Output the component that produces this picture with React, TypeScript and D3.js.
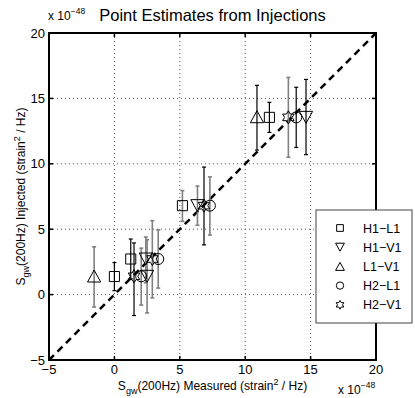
import * as d3 from "d3";

// axis settings
const DOMAIN: [number, number] = [-5, 20];
const TICKS = [-5, 0, 5, 10, 15, 20];
const GRID = [0, 5, 10, 15];
const TITLE = "Point Estimates from Injections";

// point estimates (x = measured, y = injected), error bar ends, dark bar flag
const h1l1X = [0, 1.25, 5.2, 11.85];
const h1l1Y = [1.38, 2.72, 6.8, 13.55];
const h1l1Lo = [0.3, 1.2, 5.6, 12.4];
const h1l1Hi = [2.45, 4.25, 7.95, 14.7];
const h1l1Dark = [true, true, false, true];

const h1v1X = [2.5, 2.4, 6.35, 14.65];
const h1v1Y = [1.4, 2.72, 6.8, 13.55];
const h1v1Lo = [-1.4, 0.9, 5.3, 10.7];
const h1v1Hi = [4.2, 4.4, 8.3, 16.45];
const h1v1Dark = [false, false, false, true];

const l1v1X = [-1.55, 10.9];
const l1v1Y = [1.42, 13.6];
const l1v1Lo = [-0.95, 11.05];
const l1v1Hi = [3.65, 16.0];
const l1v1Dark = [false, true];

const h2l1X = [2.05, 3.35, 7.3, 13.9];
const h2l1Y = [1.4, 2.72, 6.8, 13.55];
const h2l1Lo = [-0.8, 0.5, 4.55, 11.25];
const h2l1Hi = [3.55, 4.95, 9.0, 15.85];
const h2l1Dark = [false, false, false, true];

const h2v1X = [1.5, 2.9, 6.85, 13.3];
const h2v1Y = [1.4, 2.72, 6.8, 13.55];
const h2v1Lo = [-1.6, -0.25, 3.8, 10.5];
const h2v1Hi = [3.95, 5.65, 9.75, 16.6];
const h2v1Dark = [true, false, true, false];

type Shape = "square" | "down" | "up" | "circle" | "hex";

const SERIES: { name: string; shape: Shape; x: number[]; y: number[]; lo: number[]; hi: number[]; dark: boolean[] }[] = [
  { name: "H1\u2212L1", shape: "square", x: h1l1X, y: h1l1Y, lo: h1l1Lo, hi: h1l1Hi, dark: h1l1Dark },
  { name: "H1\u2212V1", shape: "down", x: h1v1X, y: h1v1Y, lo: h1v1Lo, hi: h1v1Hi, dark: h1v1Dark },
  { name: "L1\u2212V1", shape: "up", x: l1v1X, y: l1v1Y, lo: l1v1Lo, hi: l1v1Hi, dark: l1v1Dark },
  { name: "H2\u2212L1", shape: "circle", x: h2l1X, y: h2l1Y, lo: h2l1Lo, hi: h2l1Hi, dark: h2l1Dark },
  { name: "H2\u2212V1", shape: "hex", x: h2v1X, y: h2v1Y, lo: h2v1Lo, hi: h2v1Hi, dark: h2v1Dark },
];

const FONT = "'Liberation Sans', Arial, Helvetica, sans-serif";

function markerPath(shape: Shape, s: number): string {
  // s ~ marker size in px
  if (shape === "square") {
    const h = s * 0.42;
    return `M${-h},${-h}H${h}V${h}H${-h}Z`;
  }
  if (shape === "down" || shape === "up") {
    const w = s * 0.55;
    const t = s * 0.5;
    const sg = shape === "down" ? 1 : -1;
    return `M${-w},${-sg * t}L${w},${-sg * t}L0,${sg * t}Z`;
  }
  if (shape === "circle") {
    const r = s * 0.46;
    return `M${r},0A${r},${r} 0 1,1 ${-r},0A${r},${r} 0 1,1 ${r},0Z`;
  }
  // hexagram
  const ro = s * 0.55;
  const ri = ro / Math.sqrt(3);
  const pts: [number, number][] = [];
  for (let i = 0; i < 12; i++) {
    const r = i % 2 === 0 ? ro : ri;
    const a = -Math.PI / 2 + (i * Math.PI) / 6;
    pts.push([r * Math.cos(a), r * Math.sin(a)]);
  }
  return d3.line()(pts) + "Z";
}

export default function App() {
  const plot = { left: 49, top: 33, w: 327, h: 327 };
  const x = d3.scaleLinear().domain(DOMAIN).range([plot.left, plot.left + plot.w]);
  const y = d3.scaleLinear().domain(DOMAIN).range([plot.top + plot.h, plot.top]);
  const right = plot.left + plot.w;
  const bottom = plot.top + plot.h;
  const tickLen = 4;
  const cap = 2;

  const legend = { x: 316, y: 210, w: 96, h: 113, row: 19.2 };

  return (
    <svg width={415} height={398} style={{ position: "absolute", left: 0, top: 0, background: "#fff" }} fontFamily={FONT}>
      <rect width={415} height={398} fill="#fff" />

      {/* grid */}
      {GRID.map((g) => (
        <g key={g}>
          <line x1={x(g)} x2={x(g)} y1={plot.top} y2={bottom} stroke="#555" strokeWidth={1} strokeDasharray="1,3" />
          <line x1={plot.left} x2={right} y1={y(g)} y2={y(g)} stroke="#555" strokeWidth={1} strokeDasharray="1,3" />
        </g>
      ))}

      {/* y = x */}
      <line x1={x(DOMAIN[0])} y1={y(DOMAIN[0])} x2={x(DOMAIN[1])} y2={y(DOMAIN[1])} stroke="#000" strokeWidth={2.5} strokeDasharray="7,5" />

      {/* error bars */}
      {SERIES.map((s) =>
        s.x.map((xv, i) => {
          const col = s.dark[i] ? "#000" : "#808080";
          const sw = s.dark[i] ? 1.2 : 1.6;
          return (
            <g key={s.name + i} stroke={col} strokeWidth={sw}>
              <line x1={x(xv)} x2={x(xv)} y1={y(s.lo[i])} y2={y(s.hi[i])} />
              <line x1={x(xv) - cap} x2={x(xv) + cap} y1={y(s.lo[i])} y2={y(s.lo[i])} />
              <line x1={x(xv) - cap} x2={x(xv) + cap} y1={y(s.hi[i])} y2={y(s.hi[i])} />
            </g>
          );
        })
      )}

      {/* markers */}
      {SERIES.map((s) =>
        s.x.map((xv, i) => (
          <path
            key={"m" + s.name + i}
            d={markerPath(s.shape, 12)}
            transform={`translate(${x(xv)},${y(s.y[i])})`}
            fill="none"
            stroke="#000"
            strokeWidth={1}
          />
        ))
      )}

      {/* axes box */}
      <rect x={plot.left} y={plot.top} width={plot.w} height={plot.h} fill="none" stroke="#000" strokeWidth={2} />
      {TICKS.map((t) => (
        <g key={"t" + t} stroke="#000" strokeWidth={1.5}>
          <line x1={x(t)} x2={x(t)} y1={bottom} y2={bottom - tickLen} />
          <line x1={x(t)} x2={x(t)} y1={plot.top} y2={plot.top + tickLen} />
          <line x1={plot.left} x2={plot.left + tickLen} y1={y(t)} y2={y(t)} />
          <line x1={right} x2={right - tickLen} y1={y(t)} y2={y(t)} />
        </g>
      ))}

      {/* tick labels */}
      {TICKS.map((t) => (
        <text key={"xl" + t} x={x(t)} y={bottom + 14} textAnchor="middle" fontSize={13} fill="#000">
          {t < 0 ? "\u2212" + Math.abs(t) : t}
        </text>
      ))}
      {TICKS.map((t) => (
        <text key={"yl" + t} x={plot.left - 4} y={y(t) + 4.5} textAnchor="end" fontSize={13} fill="#000">
          {t < 0 ? "\u2212" + Math.abs(t) : t}
        </text>
      ))}

      {/* exponent labels */}
      <text x={48} y={20} fontSize={12} fill="#000">
        x 10<tspan dy={-6} fontSize={8.5}>{"\u221248"}</tspan>
      </text>
      <text x={338} y={394} fontSize={12} fill="#000">
        x 10<tspan dy={-6} fontSize={8.5}>{"\u221248"}</tspan>
      </text>

      {/* title */}
      <text x={plot.left + plot.w / 2} y={21} textAnchor="middle" fontSize={16.5} fill="#000">
        {TITLE}
      </text>

      {/* axis labels */}
      <text x={plot.left + plot.w / 2} y={390} textAnchor="middle" fontSize={12} fill="#000">
        S<tspan dy={4} fontSize={9}>gw</tspan>
        <tspan dy={-4}>(200Hz) Measured (strain</tspan>
        <tspan dy={-5} fontSize={9}>2</tspan>
        <tspan dy={5}> / Hz)</tspan>
      </text>
      <text
        transform={`translate(25,${plot.top + plot.h / 2}) rotate(-90)`}
        textAnchor="middle"
        fontSize={12}
        fill="#000"
      >
        S<tspan dy={4} fontSize={9}>gw</tspan>
        <tspan dy={-4}>(200Hz) Injected (strain</tspan>
        <tspan dy={-5} fontSize={9}>2</tspan>
        <tspan dy={5}> / Hz)</tspan>
      </text>

      {/* legend */}
      <rect x={legend.x} y={legend.y} width={legend.w} height={legend.h} fill="#fff" stroke="#444" strokeWidth={1} />
      {SERIES.map((s, i) => {
        const cy = legend.y + 18 + i * legend.row;
        return (
          <g key={"lg" + s.name}>
            <path d={markerPath(s.shape, 8)} transform={`translate(${legend.x + 24},${cy})`} fill="none" stroke="#000" strokeWidth={1} />
            <text x={legend.x + 47} y={cy + 4.5} fontSize={12.5} fill="#000">
              {s.name}
            </text>
          </g>
        );
      })}
    </svg>
  );
}
